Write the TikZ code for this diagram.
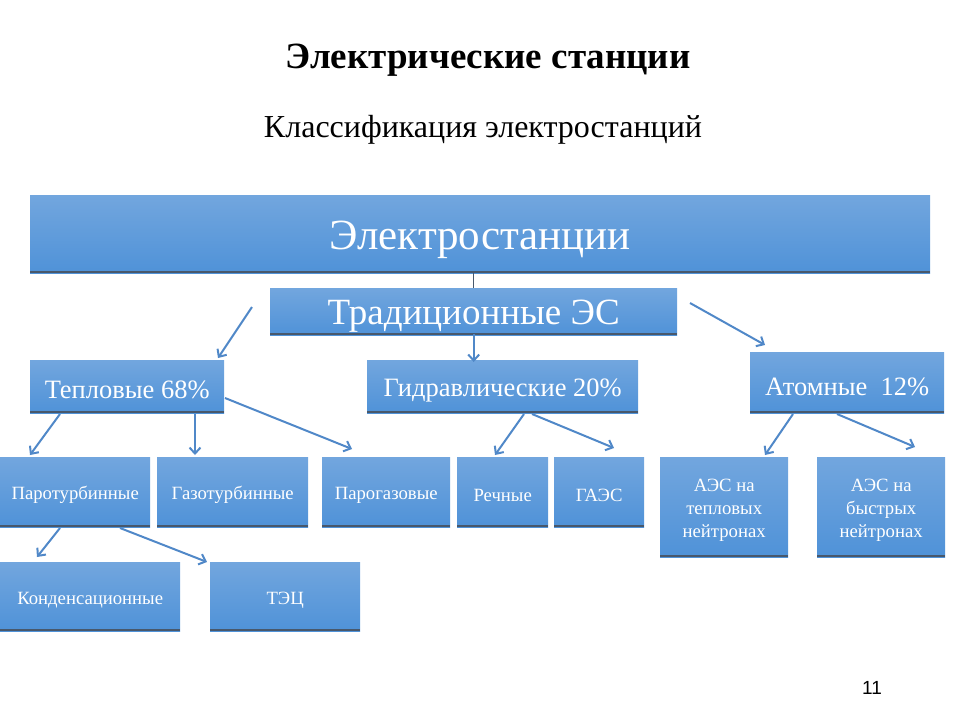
\documentclass[tikz,border=0pt]{standalone}
\usepackage{fontspec}
\setmainfont{Liberation Serif}
\newfontfamily\numfont{Liberation Sans}
\usetikzlibrary{arrows.meta}
\definecolor{boxtop}{RGB}{114,166,222}
\definecolor{boxbot}{RGB}{79,146,216}
\definecolor{edgecol}{RGB}{72,88,108}
\definecolor{arrcol}{RGB}{80,136,200}
\newcommand\dn[2]{\raisebox{-#1}[\height][\depth]{#2}}
\newcommand\threel[3]{\raisebox{-3pt}[\height][\depth]{\begin{tabular}{@{}c@{}}#1\\#2\\#3\end{tabular}}}
\begin{document}
\begin{tikzpicture}[x=1pt,y=-1pt,
  box/.style={rectangle, draw=none, top color=boxtop, bottom color=boxbot,
    text=white, inner sep=0pt, anchor=north west},
  edgeline/.style={draw=edgecol, line width=2.5pt},
  conn/.style={draw=arrcol, line width=2pt, -{Straight Barb[length=6pt,width=11pt,line width=2pt]}},
  bigfont/.style={font=\fontsize{43}{48}\selectfont},
  midfont/.style={font=\fontsize{37}{42}\selectfont},
  lvlfont/.style={font=\fontsize{26.5}{30}\selectfont},
  smallfont/.style={font=\fontsize{18.7}{23}\selectfont}]
\useasboundingbox (0,0) rectangle (960,720);

% titles
\node[font=\bfseries\fontsize{37}{42}\selectfont] (title) at (488,60) {Электрические станции};
\node[font=\fontsize{32}{36}\selectfont] (subtitle) at (483,130) {Классификация электростанций};
\node[font=\numfont\fontsize{19}{22}\selectfont] (page) at (872,688) {11};

% boxes
\node[box, bigfont, minimum width=900pt, minimum height=78pt] (es) at (30,195) {\dn{6pt}{Электростанции}};
\node[box, midfont, minimum width=407pt, minimum height=47pt] (trad) at (270,288) {\dn{4.5pt}{Традиционные ЭС}};
\node[box, lvlfont, minimum width=194pt, minimum height=53pt] (tep) at (30,360) {\dn{3pt}{Тепловые 68\%}};
\node[box, lvlfont, minimum width=271pt, minimum height=53pt] (gid) at (367,360) {\dn{4pt}{Гидравлические 20\%}};
\node[box, lvlfont, minimum width=194pt, minimum height=61pt] (atom) at (750,352) {\dn{4pt}{Атомные~~12\%}};

\node[box, smallfont, minimum width=150pt, minimum height=70pt] (parot) at (0,457) {\dn{3pt}{Паротурбинные}};
\node[box, smallfont, minimum width=151pt, minimum height=70pt] (gazot) at (157,457) {\dn{3pt}{Газотурбинные}};
\node[box, smallfont, minimum width=128pt, minimum height=70pt] (parog) at (322,457) {\dn{3pt}{Парогазовые}};
\node[box, smallfont, minimum width=91pt, minimum height=70pt] (rech) at (457,457) {\dn{3pt}{Речные}};
\node[box, smallfont, minimum width=90pt, minimum height=70pt] (gaes) at (554,457) {\dn{3pt}{ГАЭС}};
\node[box, smallfont, minimum width=128pt, minimum height=100pt] (aest) at (660,457) {\threel{АЭС на}{тепловых}{нейтронах}};
\node[box, smallfont, minimum width=128pt, minimum height=100pt] (aesb) at (817,457) {\threel{АЭС на}{быстрых}{нейтронах}};

\node[box, smallfont, minimum width=180pt, minimum height=69pt] (kond) at (0,562) {\dn{3.5pt}{Конденсационные}};
\node[box, smallfont, minimum width=150pt, minimum height=69pt] (tec) at (210,562) {\dn{3.5pt}{ТЭЦ}};

% bottom shadow edges
\foreach \n in {es,trad,tep,gid,atom,parot,gazot,parog,rech,gaes,aest,aesb,kond,tec}
  \draw[edgeline] ([yshift=1.2pt]\n.south west) -- ([yshift=1.2pt]\n.south east);

% connector end points
\coordinate (c1s) at (252,307); \coordinate (c1e) at (218,358);
\coordinate (c3s) at (690,303); \coordinate (c3e) at (765,345);
\coordinate (c5s) at (60,414);  \coordinate (c5e) at (30,455);
\coordinate (c6s) at (195,414); \coordinate (c6e) at (195,455);
\coordinate (c7s) at (225,398); \coordinate (c7e) at (352,449);
\coordinate (c8s) at (524,414); \coordinate (c8e) at (495,455);
\coordinate (c9s) at (532,414); \coordinate (c9e) at (614,448);
\coordinate (c10s) at (793,414); \coordinate (c10e) at (765,455);
\coordinate (c11s) at (837,414); \coordinate (c11e) at (915,447);
\coordinate (c12s) at (60,528); \coordinate (c12e) at (37,557);
\coordinate (c13s) at (120,528); \coordinate (c13e) at (207,562);

% connectors
\draw[draw=edgecol, line width=1.2pt] ([xshift=-7pt,yshift=2pt]es.south) -- ([xshift=-7pt]es.south |- trad.north);
\draw[conn] ([xshift=0pt,yshift=1.5pt]trad.south) -- ([xshift=0pt,yshift=-2pt]trad.south |- gid.north);
\draw[conn] (c1s) -- (c1e);
\draw[conn] (c3s) -- (c3e);
\draw[conn] (c5s) -- (c5e);
\draw[conn] (c6s) -- (c6e);
\draw[conn] (c7s) -- (c7e);
\draw[conn] (c8s) -- (c8e);
\draw[conn] (c9s) -- (c9e);
\draw[conn] (c10s) -- (c10e);
\draw[conn] (c11s) -- (c11e);
\draw[conn] (c12s) -- (c12e);
\draw[conn] (c13s) -- (c13e);
\end{tikzpicture}
\end{document}
